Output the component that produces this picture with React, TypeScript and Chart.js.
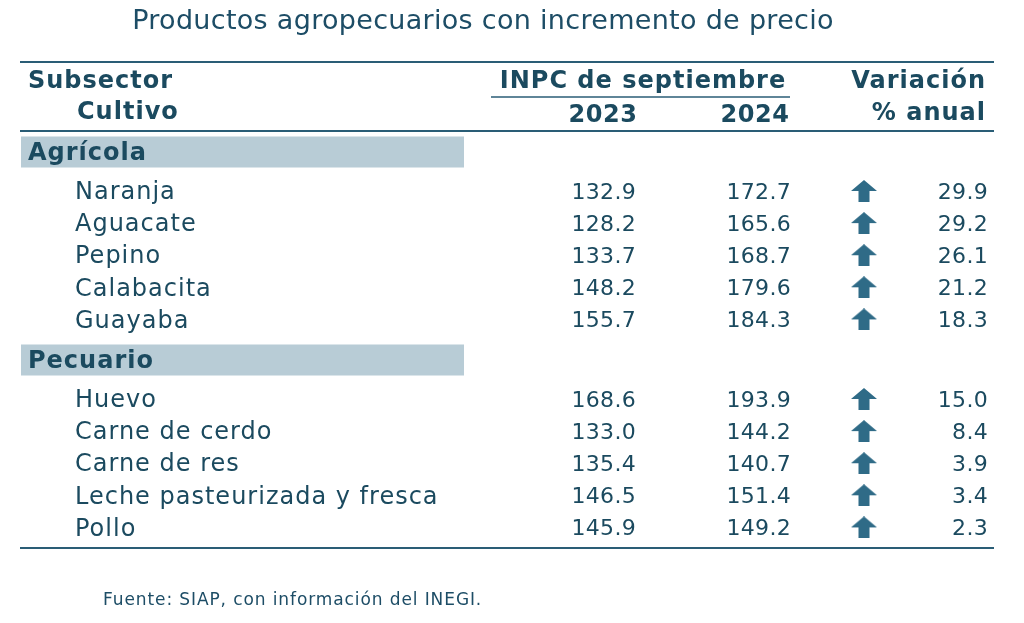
import React, { useEffect, useRef } from "react";
import { Chart, registerables } from "chart.js";

Chart.register(...registerables);

// ---------- data ----------
const TITLE = "Productos agropecuarios con incremento de precio";
const SOURCE = "Fuente: SIAP, con información del INEGI.";
const HEAD_LEFT = ["Subsector", "Cultivo"];
const HEAD_INPC = "INPC de septiembre";
const YEARS = ["2023", "2024"];
const HEAD_VAR = ["Variación", "% anual"];

const GROUPS = ["Agrícola", "Pecuario"];

const AGRI_ITEMS = ["Naranja", "Aguacate", "Pepino", "Calabacita", "Guayaba"];
const AGRI_2023 = [132.9, 128.2, 133.7, 148.2, 155.7];
const AGRI_2024 = [172.7, 165.6, 168.7, 179.6, 184.3];
const AGRI_VAR = [29.9, 29.2, 26.1, 21.2, 18.3];

const PEC_ITEMS = ["Huevo", "Carne de cerdo", "Carne de res", "Leche pasteurizada y fresca", "Pollo"];
const PEC_2023 = [168.6, 133.0, 135.4, 146.5, 145.9];
const PEC_2024 = [193.9, 144.2, 140.7, 151.4, 149.2];
const PEC_VAR = [15.0, 8.4, 3.9, 3.4, 2.3];

// ---------- layout (scale units = page pixels) ----------
const W = 1024;
const H = 623;
const FONT = "'DejaVu Sans', sans-serif";
const TEXT = "#1b4a5f";
const RULE = "#2a5d76";
const BAND = "#b8ccd6";
const ARROW = "#2f6b87";
const TEXT_DY = 2;

const COL = { group: 28, item: 75, c2023: 636, c2024: 791, arrow: 864, varR: 988 };
const TABLE = { left: 20, right: 994, topRule: 62, headRule: 131, bottomRule: 548 };
const BAND_X = { left: 21, right: 464 };
const GROUP_Y = [152, 360];
const BAND_H = 31;
const FIRST_ROW_Y = [191, 399];
const ROW_PITCH = 32.1;

function fmt(v: number) {
  return v.toFixed(1);
}

function makeArrow(): HTMLCanvasElement {
  const c = document.createElement("canvas");
  c.width = 26;
  c.height = 22;
  const g = c.getContext("2d")!;
  g.fillStyle = ARROW;
  g.beginPath();
  g.moveTo(13, 0);
  g.lineTo(26, 11);
  g.lineTo(18.5, 11);
  g.lineTo(18.5, 22);
  g.lineTo(7.5, 22);
  g.lineTo(7.5, 11);
  g.lineTo(0, 11);
  g.closePath();
  g.fill();
  return c;
}

export default function App() {
  const ref = useRef<HTMLCanvasElement | null>(null);

  useEffect(() => {
    if (!ref.current) return;
    const groups = [
      { name: GROUPS[0], items: AGRI_ITEMS, a: AGRI_2023, b: AGRI_2024, v: AGRI_VAR },
      { name: GROUPS[1], items: PEC_ITEMS, a: PEC_2023, b: PEC_2024, v: PEC_VAR },
    ];
    const rowY = (g: number, i: number) => FIRST_ROW_Y[g] + i * ROW_PITCH;

    const arrowPts: { x: number; y: number }[] = [];
    groups.forEach((g, gi) => g.v.forEach((_, i) => arrowPts.push({ x: COL.arrow, y: rowY(gi, i) })));

    const tablePlugin = {
      id: "tablePlugin",
      beforeDatasetsDraw(chart: any) {
        const ctx = chart.ctx as CanvasRenderingContext2D;
        const X = (v: number) => chart.scales.x.getPixelForValue(v);
        const Y = (v: number) => chart.scales.y.getPixelForValue(v);
        ctx.save();
        ctx.fillStyle = "#ffffff";
        ctx.fillRect(0, 0, chart.width, chart.height);

        const text = (
          s: string,
          x: number,
          y: number,
          align: CanvasTextAlign,
          font: string,
          spacing = 0,
          color = TEXT
        ) => {
          ctx.font = font;
          (ctx as any).letterSpacing = `${spacing}px`;
          ctx.fillStyle = color;
          ctx.textAlign = align;
          ctx.textBaseline = "middle";
          ctx.fillText(s, X(x), Y(y + TEXT_DY));
          (ctx as any).letterSpacing = "0px";
        };
        const hline = (x1: number, x2: number, y: number, w: number) => {
          ctx.strokeStyle = RULE;
          ctx.lineWidth = w;
          ctx.beginPath();
          ctx.moveTo(X(x1), Y(y));
          ctx.lineTo(X(x2), Y(y));
          ctx.stroke();
        };

        const headFont = `bold 24px ${FONT}`;
        const labelFont = `24px ${FONT}`;
        const numFont = `22px ${FONT}`;

        text(TITLE, 483, 20, "center", `27px ${FONT}`, 0.3, "#1d4d66");

        hline(TABLE.left, TABLE.right, TABLE.topRule, 2);
        text(HEAD_LEFT[0], COL.group, 80, "left", headFont, 1);
        text(HEAD_LEFT[1], 77, 111, "left", headFont, 1);
        text(HEAD_INPC, 643, 80, "center", headFont, 1);
        hline(491, 790, 97, 1.5);
        text(YEARS[0], 603, 114, "center", headFont, 0.5);
        text(YEARS[1], 755, 114, "center", headFont, 0.5);
        text(HEAD_VAR[0], 986, 80, "right", headFont, 1);
        text(HEAD_VAR[1], 986, 112, "right", headFont, 1);
        hline(TABLE.left, TABLE.right, TABLE.headRule, 2);

        groups.forEach((g, gi) => {
          ctx.fillStyle = BAND;
          const top = Y(GROUP_Y[gi] - BAND_H / 2);
          ctx.fillRect(X(BAND_X.left), top, X(BAND_X.right) - X(BAND_X.left), Y(GROUP_Y[gi] + BAND_H / 2) - top);
          text(g.name, COL.group, GROUP_Y[gi], "left", headFont, 1);
          g.items.forEach((it, i) => {
            const y = rowY(gi, i);
            text(it, COL.item, y, "left", labelFont, 1);
            text(fmt(g.a[i]), COL.c2023, y, "right", numFont, 0.3);
            text(fmt(g.b[i]), COL.c2024, y, "right", numFont, 0.3);
            text(fmt(g.v[i]), COL.varR, y, "right", numFont, 0.3);
          });
        });

        hline(TABLE.left, TABLE.right, TABLE.bottomRule, 2);
        text(SOURCE, 103, 599, "left", `17px ${FONT}`, 0.9, "#1d4d66");
        ctx.restore();
      },
    };

    const chart = new Chart(ref.current, {
      type: "scatter",
      data: {
        datasets: [
          {
            data: arrowPts,
            pointStyle: makeArrow(),
            pointRadius: 12,
            pointHoverRadius: 12,
          },
        ],
      },
      options: {
        animation: false,
        responsive: true,
        maintainAspectRatio: false,
        layout: { padding: 0, autoPadding: false },
        events: [],
        plugins: { legend: { display: false }, tooltip: { enabled: false } },
        scales: {
          x: { type: "linear", min: 0, max: W, display: false },
          y: { type: "linear", min: 0, max: H, reverse: true, display: false },
        },
      },
      plugins: [tablePlugin],
    } as any);
    return () => chart.destroy();
  }, []);

  return (
    <div style={{ position: "absolute", left: 0, top: 0, width: W, height: H, background: "#fff" }}>
      <canvas ref={ref} />
    </div>
  );
}
